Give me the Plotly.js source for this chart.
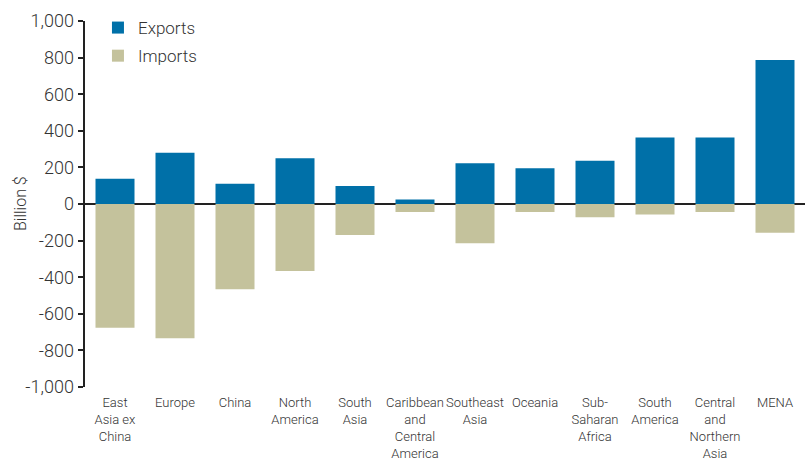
<!DOCTYPE html>
<html>
<head>
<meta charset="utf-8">
<script src="https://cdn.plot.ly/plotly-3.0.1.min.js"></script>
<style>html,body{margin:0;padding:0;background:#fff;}#chart{width:812px;height:462px;}</style>
</head>
<body>
<div id="chart"></div>
<script>
const categories = ["East<br>Asia ex<br>China", "Europe", "China", "North<br>America", "South<br>Asia", "Caribbean<br>and<br>Central<br>America", "Southeast<br>Asia", "Oceania", "Sub-<br>Saharan<br>Africa", "South<br>America", "Central<br>and<br>Northern<br>Asia", "MENA"];
const exportsVals = [138, 280, 110, 250, 98, 25, 222, 195, 237, 364, 364, 787];
const importsVals = [-676, -734, -466, -366, -169, -44, -215, -44, -73, -58, -44, -157];
const yTickVals = [1000, 800, 600, 400, 200, 0, -200, -400, -600, -800, -1000];
const yTickText = ["1,000", "800", "600", "400", "200", "0", "-200", "-400", "-600", "-800", "-1,000"];
const yTitle = "Billion $";

const fontFam = "Roboto, 'Liberation Sans', Arial, sans-serif";
const traces = [
  {type: "bar", name: "Exports", x: categories, y: exportsVals, marker: {color: "#0070A8"}, legendgroup: "a"},
  {type: "bar", name: "Imports", x: categories, y: importsVals, marker: {color: "#C4C29C"}, legendgroup: "b"}
];
const layout = {
  width: 812, height: 462,
  margin: {l: 85, r: 7, t: 21, b: 75},
  barmode: "relative",
  bargap: 0.35,
  paper_bgcolor: "#fff", plot_bgcolor: "#fff",
  font: {family: fontFam, color: "#333", weight: 300},
  showlegend: true,
  legend: {x: 0.018, y: 1.03, xanchor: "left", yanchor: "top", font: {size: 17, color: "#333", weight: 300}, traceorder: "grouped", tracegroupgap: 3, bgcolor: "rgba(0,0,0,0)"},
  xaxis: {type: "category", showline: false, ticks: "", tickangle: 0, ticklabelstandoff: 6, tickfont: {size: 13, color: "#333", weight: 300}, showgrid: false, automargin: false},
  yaxis: {range: [-1000, 1000], tickvals: yTickVals, ticktext: yTickText, tickfont: {size: 18, color: "#333", weight: 300},
          showline: true, linecolor: "#222", linewidth: 2.5, ticks: "outside", ticklen: 5, tickwidth: 2, tickcolor: "#222",
          showgrid: false, zeroline: true, zerolinecolor: "#222", zerolinewidth: 2.5, automargin: false},
  annotations: [{text: yTitle, xref: "paper", yref: "paper", x: -65 / 720, y: 0.5, xanchor: "center", yanchor: "middle",
                 textangle: -90, showarrow: false, font: {size: 16, color: "#333", weight: 300}}]
};
Plotly.newPlot("chart", traces, layout, {displayModeBar: false, staticPlot: true});
</script>
</body>
</html>
